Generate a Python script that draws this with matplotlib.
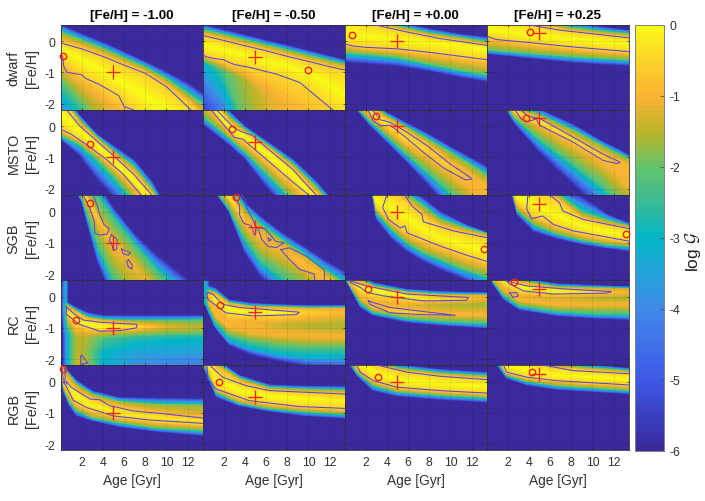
import numpy as np
import matplotlib
matplotlib.use("Agg")
import matplotlib.pyplot as plt
from matplotlib.colors import LinearSegmentedColormap, Normalize
from matplotlib.cm import ScalarMappable

plt.rcParams["font.family"] = ["Liberation Sans", "DejaVu Sans"]
plt.rcParams["mathtext.fontset"] = "cm"

titles = ["[Fe/H] = -1.00", "[Fe/H] = -0.50", "[Fe/H] = +0.00", "[Fe/H] = +0.25"]
row_names = ["dwarf", "MSTO", "SGB", "RC", "RGB"]
cross_feh = [-1.0, -0.5, 0.0, 0.25]
cross_age = 5

# best fit circles, one row per stellar type
circle_age = [[0.2, 10.0, 0.7, 4.1], [2.8, 2.75, 3.0, 3.7], [2.8, 3.2, 13.2, 13.2],
              [1.5, 1.65, 2.2, 2.6], [0.2, 1.55, 3.2, 4.3]]
circle_feh = [[-0.47, -0.92, 0.18, 0.29], [-0.58, -0.08, 0.33, 0.27], [0.27, 0.47, -1.19, -0.73],
              [-0.75, -0.28, 0.23, 0.46], [0.41, 0.0, 0.16, 0.31]]

# colorbar stops (log G, colour)
cbar_levels = [-6, -5.5, -5, -4, -3.5, -3, -2.5, -2, -1.5, -1, -0.4, 0]
cbar_colors = ["#3a2a9c", "#3a40c4", "#3e5ae8", "#3f8ae8", "#23a4d8", "#02b5c8",
               "#38bb93", "#62c36e", "#b8b42a", "#f9b233", "#fcd628", "#f8f817"]

# each panel: ages of the columns, feh of each row (bottom to top), log G of each row
band_val = [-6, -2, -0.6, -0.05, -0.6, -2, -6]

dwarf_a_age = [0, 2, 4, 6, 8, 10, 12, 13.5]
dwarf_a_feh = [[-2.5, -2.6, -2.7, -3, -3.5, -4, -4.6, -5],
               [-1.3, -1.7, -2.0, -2.4, -3, -3.6, -4.2, -4.6],
               [-0.55, -1.07, -1.45, -1.95, -2.6, -3.2, -3.8, -4.2],
               [-0.25, -0.6, -0.95, -1.35, -1.75, -2.15, -2.6, -3],
               [-0.06, -0.25, -0.49, -0.77, -1.03, -1.46, -1.98, -2.5],
               [0.28, 0.02, -0.25, -0.55, -0.85, -1.22, -1.7, -2.05],
               [0.53, 0.24, -0.03, -0.34, -0.65, -0.98, -1.33, -1.68]]
dwarf_a_val = [[-4.8, -3.2, -1.8, -1.3, -1.1, -1, -1, -1],
               [-2.2, -1.6, -1.2, -1, -1, -1, -1, -1], -0.6, -0.02, -0.6, -2, -6]
dwarf_a_lines = [[[0, 2, 4, 6, 8, 10, 12.3], [-0.06, -0.25, -0.49, -0.77, -1.03, -1.46, -2.2]],
                 [[0.2, 0.3, 0.6, 2, 2.4, 3.6, 4.5, 5.5, 6, 6.9],
                  [-0.47, -0.8, -1.0, -1.08, -1.2, -1.38, -1.55, -1.75, -2.1, -2.2]]]

dwarf_b_age = [0, 2, 4, 6, 8, 10, 12, 13.5]
dwarf_b_feh = [[-2.4, -2.5, -2.6, -2.8, -3.2, -3.6, -4, -4.4],
               [-0.7, -0.95, -1.25, -1.7, -2.1, -2.6, -3.2, -3.7],
               [-0.41, -0.65, -0.84, -1.05, -1.25, -1.6, -2.15, -2.6],
               [-0.1, -0.3, -0.45, -0.65, -0.8, -1.05, -1.4, -1.7],
               [0.18, 0.02, -0.15, -0.31, -0.49, -0.65, -0.82, -0.93],
               [0.35, 0.2, 0.03, -0.13, -0.3, -0.47, -0.63, -0.75],
               [0.53, 0.36, 0.2, 0.03, -0.13, -0.3, -0.47, -0.6]]
dwarf_b_val = [[-6, -4.6, -2, -1.5, -1.1, -0.9, -0.9, -1],
               [-3.2, -2.2, -1.6, -1.2, -1, -1, -1, -1], -0.6, -0.05, -0.6, -2, -6]
dwarf_b_lines = [[[0, 2, 4, 6, 8, 10, 12, 13.5], [0.18, 0.02, -0.15, -0.31, -0.49, -0.65, -0.82, -0.93]],
                 [[0, 0.3, 1, 2, 2.5, 3, 4.4, 7, 9.2, 10.7, 12.3],
                  [-0.41, -0.5, -0.55, -0.6, -0.68, -0.75, -0.84, -1.06, -1.33, -1.76, -2.2]]]

dwarf_c_age = [0, 2, 5, 8, 11, 13.5]
dwarf_c_feh = [[-0.68, -0.72, -0.8, -0.96, -1.16, -1.3],
               [-0.35, -0.4, -0.5, -0.72, -0.92, -1.06],
               [-0.09, -0.2, -0.25, -0.36, -0.49, -0.6],
               [0.2, 0.15, 0.05, -0.05, -0.15, -0.25],
               [0.9, 0.62, 0.35, 0.15, -0.02, -0.14],
               [1, 0.75, 0.47, 0.25, 0.1, -0.03],
               [1.1, 0.9, 0.6, 0.4, 0.22, 0.13]]
dwarf_c_lines = [[[2.7, 5.9, 9, 13.5], [0.53, 0.29, 0.08, -0.14]],
                 [[0, 0.8, 2, 5, 8, 11, 13.5], [-0.09, -0.16, -0.2, -0.25, -0.36, -0.49, -0.6]]]

dwarf_d_age = [0, 4, 8, 11, 13.5]
dwarf_d_feh = [[-0.41, -0.55, -0.68, -0.75, -0.79],
               [-0.27, -0.38, -0.48, -0.54, -0.58],
               [0.16, -0.05, -0.19, -0.28, -0.34],
               [0.35, 0.2, 0.05, -0.02, -0.1],
               [1, 0.55, 0.3, 0.18, 0.1],
               [1.1, 0.65, 0.42, 0.3, 0.22],
               [1.2, 0.85, 0.62, 0.45, 0.35]]
dwarf_d_lines = [[[3.8, 6.9, 13.5], [0.53, 0.35, 0.1]],
                 [[0, 0.9, 4.1, 8.2, 13.5], [0.16, 0.05, -0.05, -0.19, -0.34]]]

msto_a_age = [0, 1.8, 3.4, 5, 6.9, 8.6, 10]
msto_a_feh = [[-0.42, -0.95, -1.7, -2.3, -3, -3.7, -4.3],
              [-0.28, -0.55, -1.0, -1.55, -2.3, -3, -3.7],
              [-0.08, -0.43, -0.8, -1.27, -1.85, -2.6, -3.3],
              [0.4, -0.15, -0.6, -1.1, -1.72, -2.4, -3.1],
              [0.95, 0.01, -0.47, -0.95, -1.54, -2.18, -3],
              [1, 0.2, -0.35, -0.8, -1.3, -2.0, -2.8],
              [1.05, 0.35, -0.25, -0.63, -1.06, -1.75, -2.6]]
msto_a_lines = [[[0.57, 1.8, 3.4, 5, 6.9, 8.6], [0.52, 0.01, -0.47, -0.95, -1.54, -2.2]],
                [[0, 1, 2.6, 4.3, 5.9, 7.6], [-0.1, -0.26, -0.63, -1.06, -1.54, -2.2]]]

msto_b_age = [0, 2.5, 4, 6, 8.5, 10.7, 13.5]
msto_b_feh = [[0.05, -0.6, -1.05, -1.95, -2.9, -3.6, -4.2],
              [0.35, -0.35, -0.8, -1.45, -2.3, -3, -3.8],
              [1.0, -0.15, -0.5, -1.06, -1.78, -2.5, -3.5],
              [1.15, -0.05, -0.35, -0.85, -1.55, -2.35, -3.4],
              [1.3, 0.09, -0.25, -0.68, -1.38, -2.18, -3.2],
              [1.4, 0.3, -0.12, -0.58, -1.22, -1.95, -3],
              [1.5, 0.49, 0.0, -0.47, -1.05, -1.75, -2.85]]
msto_b_lines = [[[1.3, 2.9, 3.5, 4.7, 6, 8.5, 10.7], [0.52, -0.04, -0.15, -0.3, -0.68, -1.38, -2.2]],
                [[0.8, 2.2, 3, 3.8, 6, 8.2, 10], [0.52, -0.04, -0.36, -0.42, -1.06, -1.7, -2.2]]]

msto_c_age = [0, 2.4, 3.7, 5.9, 7.8, 10, 11.9, 13.5]
msto_c_feh = [[1.0, 0.02, -0.42, -1.17, -1.85, -2.7, -3.3, -3.8],
              [1.05, 0.17, -0.22, -0.9, -1.45, -2.1, -2.7, -3.2],
              [1.1, 0.35, 0.0, -0.6, -1.0, -1.5, -2, -2.5],
              [1.15, 0.5, 0.15, -0.38, -0.8, -1.33, -1.78, -2.2],
              [1.2, 0.65, 0.28, -0.15, -0.6, -1.15, -1.6, -1.95],
              [1.3, 0.8, 0.38, -0.05, -0.42, -0.85, -1.25, -1.6],
              [1.4, 0.95, 0.49, 0.1, -0.22, -0.66, -1.0, -1.3]]
msto_c_val = [-6, -2.2, -1.0, [-0.3, -0.3, -0.2, -0.4, -0.6, -0.7, -0.9, -0.95], -0.9, -2, -6]
msto_c_lines = [[[2.2, 2.7, 3.4, 4.3, 5.6, 7.45, 9.3, 11.4, 12, 11.9, 10, 7.8, 5.9, 4.3, 3.4, 2.6],
                 [0.52, 0.17, 0.01, 0.03, -0.31, -0.84, -1.33, -1.72, -1.7, -1.65, -1.22, -0.63, -0.2,
                  0.12, 0.2, 0.52]]]

msto_d_age = [0, 2.7, 5, 8.2, 11, 12.4, 13.5]
msto_d_feh = [[1.5, 0.06, -0.85, -1.9, -2.8, -3.3, -3.7],
              [1.55, 0.25, -0.4, -1.2, -1.9, -2.4, -2.7],
              [1.6, 0.4, 0.03, -0.6, -1.15, -1.55, -1.9],
              [1.65, 0.45, 0.14, -0.44, -1.0, -1.3, -1.6],
              [1.7, 0.5, 0.25, -0.36, -0.9, -1.1, -1.3],
              [1.75, 0.6, 0.35, -0.15, -0.65, -0.9, -1.05],
              [1.8, 0.75, 0.55, 0.06, -0.5, -0.72, -0.95]]
msto_d_val = [-6, -2.2, -1.0, [-0.5, -0.5, -0.3, -0.5, -0.7, -0.9, -1], -0.9, -2, -6]
msto_d_lines = [[[2.67, 3.3, 3.8, 4.7, 5, 8.2, 11, 12.3, 12.6, 12.4, 11, 8.2, 5, 3.9, 3.2],
                 [0.52, 0.22, 0.14, 0.22, 0.03, -0.52, -1.1, -1.2, -1.17, -1.12, -0.9, -0.36, 0.25,
                  0.32, 0.52]]]

sgb_a_age = [0, 2, 3.5, 5, 7, 9, 11, 13.5]
sgb_a_feh = [[1.5, 0.3, -1.65, -2.9, -4, -5, -6, -7],
             [1.6, 0.45, -1.1, -2.2, -3.2, -4.2, -5.2, -6],
             [1.7, 0.55, -0.6, -1.6, -2.5, -3.5, -4.5, -5.5],
             [1.8, 0.7, -0.2, -1.0, -1.75, -2.6, -3.8, -5],
             [1.9, 0.8, 0.0, -0.75, -1.5, -2.35, -3.3, -4.5],
             [1.95, 1.0, 0.5, -0.2, -1.05, -1.85, -2.5, -3.2],
             [2, 1.3, 0.9, 0.12, -0.72, -1.35, -1.87, -2.6]]
sgb_a_val = [-6, -2.4, -1.6, [-0.3, -0.2, -0.7, -0.9, -1.1, -1.3, -1.3, -1.3], -1.5, -2.4, -6]
sgb_a_lines = [[[2.14, 2.77, 3.18, 3.24, 3.7, 4.4, 4.6, 4.1, 3.7, 3.46, 3.1],
                [0.52, 0.1, -0.3, -0.7, -0.75, -0.72, -0.55, -0.42, -0.1, 0.2, 0.52]],
               [[4.8, 5.35, 5.3, 5, 4.8, 4.6, 4.8], [-0.73, -0.9, -1.2, -1.25, -1.0, -0.95, -0.73]],
               [[5.75, 6.6, 6.4, 5.9, 5.75], [-1.2, -1.32, -1.4, -1.35, -1.2]],
               [[6.4, 6.75, 6.75, 6.4, 6.25, 6.4], [-1.54, -1.7, -1.84, -1.77, -1.6, -1.54]]]

sgb_b_age = [0, 2.5, 4, 5.5, 7.5, 9.5, 11.5, 13.5]
sgb_b_feh = [[1.2, 0.0, -1.35, -2.1, -2.8, -3.4, -3.9, -4.2],
             [1.25, 0.1, -0.9, -1.6, -2.1, -2.6, -3.1, -3.5],
             [1.3, 0.3, -0.6, -1.2, -1.6, -2.0, -2.5, -3.1],
             [1.35, 0.5, -0.3, -0.85, -1.2, -1.7, -2.1, -2.8],
             [1.4, 0.7, -0.05, -0.6, -1.0, -1.45, -1.95, -2.5],
             [1.45, 0.85, 0.1, -0.4, -0.9, -1.35, -1.85, -2.3],
             [1.5, 1.0, 0.3, -0.15, -0.68, -1.1, -1.55, -1.92]]
sgb_b_val = [-6, -2.4, -1.5, [-0.3, -0.3, -0.8, -0.9, -1, -0.8, -0.8, -1], -1.3, -2.4, -6]
sgb_b_lines = [[[2.9, 3.5, 3.5, 3.9, 4.6, 4.9, 5, 5.05, 5.9, 6.9, 7.7, 7, 6.2, 5.6, 5.3, 4.9, 4.75,
                 4.5, 4.2, 4.05, 3.7],
                [0.52, 0.2, -0.1, -0.38, -0.45, -0.75, -0.75, -0.5, -0.55, -0.95, -1.0, -1.15, -1.12,
                 -0.9, -0.6, -0.4, -0.25, -0.1, 0.1, 0.4, 0.52]],
               [[7.4, 8.2, 9.8, 11.5, 11.5, 10.6, 10.55, 9.15, 8.05, 7.4],
                [-1.22, -1.16, -1.43, -1.86, -2.25, -2.25, -2.0, -1.85, -1.48, -1.22]],
               [[6.2, 6.5, 6.25, 6.2], [-0.85, -0.9, -0.95, -0.85]]]

sgb_c_age = [0, 2.6, 3, 4.5, 6, 7.5, 9, 11.5, 13.5]
sgb_c_feh = [[0.55, 0.55, -0.25, -0.9, -1.3, -1.6, -1.85, -2.2, -2.5],
             [0.7, 0.7, 0.0, -0.55, -1.0, -1.3, -1.5, -1.85, -2.05],
             [0.8, 0.8, 0.15, -0.3, -0.68, -0.9, -1.1, -1.4, -1.6],
             [0.9, 0.9, 0.35, 0.15, -0.2, -0.6, -0.85, -1.1, -1.25],
             [1, 1, 0.6, 0.55, 0.25, -0.2, -0.5, -0.72, -0.85],
             [1.1, 1.1, 0.9, 0.8, 0.5, 0.15, -0.25, -0.55, -0.72],
             [1.2, 1.2, 1.1, 0.95, 0.75, 0.42, 0.02, -0.42, -0.68]]
sgb_c_lines = [[[5.7, 6.35, 7.3, 7.45, 10.3, 13.5], [0.53, 0.18, -0.09, -0.33, -0.62, -0.84]],
               [[4, 3.6, 4.15, 5.25, 5.7, 5.9, 9, 11.55, 13.5],
                [0.53, 0.13, -0.25, -0.52, -0.46, -0.68, -1.1, -1.4, -1.6]]]

sgb_d_age = [0, 2.4, 2.9, 4.5, 6.5, 9, 11.5, 13.5]
sgb_d_feh = [[0.55, 0.55, -0.1, -0.65, -0.85, -1.05, -1.18, -1.27],
             [0.7, 0.7, 0.05, -0.4, -0.68, -0.9, -1.05, -1.1],
             [0.8, 0.8, 0.3, -0.1, -0.42, -0.7, -0.85, -0.95],
             [0.9, 0.9, 0.5, 0.2, -0.1, -0.45, -0.65, -0.75],
             [1.0, 1.0, 0.9, 0.7, 0.4, -0.25, -0.45, -0.55],
             [1.1, 1.1, 1.0, 0.8, 0.6, -0.05, -0.3, -0.47],
             [1.2, 1.2, 1.1, 0.95, 0.8, 0.5, -0.1, -0.38]]
sgb_d_lines = [[[6, 6.9, 7.2, 9.1, 13.5], [0.53, 0.28, 0.02, -0.25, -0.55]],
               [[3.9, 3.8, 4.25, 5.3, 6.3, 8.2, 13.5], [0.53, 0.08, -0.23, -0.14, -0.41, -0.62, -0.95]]]

rc_a_age = [0, 0.2, 0.45, 0.7, 1.5, 2.5, 4, 7, 10, 13.5]
rc_a_feh = [[-2.3] * 10,
            [-1.8] * 10,
            [-1.3] * 10,
            [-1.13] * 10,
            [-0.4, -0.4, -0.42, -0.5, -0.7, -0.88, -0.97, -0.97, -0.97, -0.97],
            [-0.1, -0.12, -0.2, -0.3, -0.5, -0.7, -0.78, -0.8, -0.78, -0.75],
            [0.0, -0.02, -0.1, -0.2, -0.35, -0.5, -0.6, -0.6, -0.6, -0.6],
            [0.6] * 10]
rc_a_val = [[-6, -6, -4.5, -3, -1.4, -1.5, -3.2, -4, -4.2, -4.4],
            [-6, -6, -4.5, -3, -1.5, -1.8, -3, -3.6, -3.6, -3.7],
            [-6, -6, -4.5, -3, -1.5, -1.6, -2.2, -2.6, -2.8, -2.9],
            [-6, -6, -4, -2.8, -1.2, -1.1, -1.1, -1.5, -1.8, -1.9],
            [-6, -5, -2.5, -0.5, -0.1, -0.05, -0.05, -0.4, -1.2, -1.5],
            [-6, -5, -3, -1.5, -1, -1, -1, -1.6, -2, -2.2],
            [-6, -5, -3.2, -6, -6, -6, -6, -6, -6, -6],
            [-6, -6, -3.2, -6, -6, -6, -6, -6, -6, -6]]
rc_a_lines = [[[0.55, 1.35, 2.15, 3.7, 7.2, 7.2, 5.6, 3.7, 1.8, 0.55, 0.55],
               [-0.33, -0.57, -0.75, -0.82, -0.89, -1.0, -1.09, -1.11, -0.89, -0.57, -0.33]],
              [[2, 2.6, 1.9, 1.9, 2], [-1.88, -2.13, -2.17, -1.9, -1.88]]]

rc_b_age = [0, 0.3, 0.6, 1.2, 2.5, 4.5, 7, 10, 13.5]
rc_b_feh = [[-0.2, -0.3, -0.55, -1, -1.55, -1.85, -2.05, -2.25, -2.35],
            [-0.15, -0.2, -0.45, -0.9, -1.4, -1.65, -1.85, -1.95, -1.95],
            [-0.1, -0.1, -0.2, -0.6, -1.0, -1.15, -1.22, -1.27, -1.27],
            [-0.05, -0.05, -0.05, -0.3, -0.7, -0.8, -0.88, -0.92, -0.92],
            [0, 0, 0.05, -0.05, -0.4, -0.48, -0.5, -0.5, -0.5],
            [0.05, 0.1, 0.2, 0.1, -0.22, -0.33, -0.35, -0.38, -0.38],
            [0.15, 0.35, 0.35, 0.28, -0.1, -0.2, -0.25, -0.28, -0.28],
            [0.6] * 9]
rc_b_val = [-6, -3.2,
            [-6, -3, -1.2, -1.0, -1.0, -1.05, -1.0, -1.0, -1.0],
            [-6, -3, -1, -0.8, -0.9, -1.1, -1.4, -1.6, -1.7],
            [-6, -3, -0.8, -0.1, -0.05, -0.05, -0.1, -0.6, -0.9],
            [-6, -3, -2, -1.2, -1.2, -1.2, -1.2, -1.2, -1.2],
            [-6, -3.2, -6, -6, -6, -6, -6, -6, -6],
            [-6, -3.2, -6, -6, -6, -6, -6, -6, -6]]
rc_b_lines = [[[0.5, 1, 1.9, 3.5, 9.15, 8.85, 4.75, 2.2, 0.5, 0.4, 0.5],
               [0.13, 0.07, -0.25, -0.35, -0.5, -0.58, -0.62, -0.52, -0.09, 0.07, 0.13]]]

rc_c_age = [0, 0.5, 1.5, 2.7, 5.9, 9, 13.5]
rc_c_feh = [[0.6, 0.3, -0.35, -0.6, -0.82, -0.92, -1.02],
            [0.65, 0.35, -0.2, -0.5, -0.7, -0.8, -0.87],
            [0.7, 0.4, -0.05, -0.35, -0.52, -0.57, -0.6],
            [0.72, 0.42, 0.05, -0.15, -0.27, -0.25, -0.25],
            [0.8, 0.48, 0.25, 0.22, 0.0, -0.08, -0.05],
            [0.9, 0.6, 0.5, 0.32, 0.12, 0.05, 0.03],
            [1, 0.8, 0.7, 0.45, 0.24, 0.17, 0.13]]
rc_c_val = [-6, -2.4,
            [-6, -1.5, -1.2, -0.9, -0.6, -0.9, -1],
            [-6, -1.5, -1, -1, -1.3, -1.6, -1.7],
            [-6, -1, -0.1, -0.05, -0.05, -0.4, -1],
            -1.2, -6]
rc_c_lines = [[[0.55, 2.1, 5.9, 11.7, 11.5, 7.45, 3.7, 2.1, 1.5, 0.55, 0.55],
               [0.5, 0.34, 0.08, -0.03, -0.12, -0.14, 0.02, 0.13, 0.29, 0.45, 0.5]],
              [[2.25, 2.7, 4.3, 10.45, 6.8, 4.3, 2.4, 2.25],
               [-0.14, -0.19, -0.35, -0.6, -0.57, -0.52, -0.25, -0.14]]]

rc_d_age = [0, 0.6, 1.6, 3.1, 6.6, 10, 13.5]
rc_d_feh = [[0.9, 0.42, -0.09, -0.42, -0.62, -0.7, -0.75],
            [0.92, 0.5, 0.05, -0.3, -0.48, -0.55, -0.58],
            [0.95, 0.55, 0.2, -0.1, -0.27, -0.25, -0.25],
            [0.97, 0.6, 0.25, 0.02, -0.05, -0.05, -0.05],
            [1, 0.7, 0.5, 0.3, 0.17, 0.15, 0.14],
            [1.05, 0.9, 0.7, 0.5, 0.3, 0.27, 0.25],
            [1.1, 1, 0.9, 0.6, 0.42, 0.36, 0.32]]
rc_d_val = [-6, -2.4,
            [-6, -1.4, -1.2, -0.9, -1, -1, -1],
            [-6, -1.4, -1.2, -1.2, -1.3, -1.6, -1.7],
            [-6, -1, -0.3, -0.05, -0.1, -0.5, -1],
            -1.5, -6]
rc_d_lines = [[[1.9, 3.8, 7.55, 11.8, 11.3, 6.3, 3.5, 2.2, 1.9],
               [0.5, 0.34, 0.24, 0.16, 0.11, 0.08, 0.18, 0.4, 0.5]],
              [[2.2, 2.85, 3, 2.5, 2.2], [0.11, 0.13, 0.02, -0.03, 0.11]]]

rgb_a_age = [0, 0.3, 0.8, 1.5, 3, 5.5, 9, 13.5]
rgb_a_feh = [[0.3, -0.35, -0.75, -1.1, -1.25, -1.45, -1.6, -1.74],
             [0.35, -0.2, -0.6, -0.9, -1.15, -1.3, -1.47, -1.55],
             [0.38, -0.1, -0.35, -0.7, -0.92, -1.13, -1.27, -1.36],
             [0.4, 0.1, -0.15, -0.45, -0.75, -1.0, -1.15, -1.25],
             [0.45, 0.3, 0.0, -0.25, -0.56, -0.8, -1.0, -1.17],
             [0.5, 0.4, 0.2, -0.1, -0.42, -0.65, -0.75, -0.78],
             [0.7, 0.55, 0.3, 0.05, -0.3, -0.5, -0.52, -0.54]]
rgb_a_val = [-6, -2, -0.6, [-3, -1.2, -0.3, -0.1, -0.1, -0.2, -0.3, -0.4], -0.9, -1.8, -6]
rgb_a_lines = [[[0.55, 1, 2.8, 3.7, 4.65, 6.85, 10, 13.5], [0, -0.18, -0.56, -0.58, -0.77, -0.94, -1.04, -1.17]],
               [[0.55, 0.5, 1.2, 2.45, 5, 8.4, 13.5], [0, -0.13, -0.6, -0.83, -1.1, -1.23, -1.34]],
               [[0.15, 0.25, 0.35, 0.45, 0.4], [0.42, 0.05, -0.1, 0.15, 0.42]]]

rgb_b_age = [0, 0.4, 1.3, 3.5, 6.3, 9.5, 13.5]
rgb_b_feh = [[0.55, 0.2, -0.5, -0.78, -0.95, -1.1, -1.18],
             [0.6, 0.4, -0.33, -0.68, -0.85, -0.95, -1.03],
             [0.65, 0.55, -0.2, -0.52, -0.7, -0.8, -0.87],
             [0.7, 0.65, 0.1, -0.3, -0.45, -0.55, -0.62],
             [0.8, 0.8, 0.45, 0.0, -0.29, -0.35, -0.4],
             [0.85, 0.85, 0.6, 0.1, -0.2, -0.25, -0.28],
             [0.9, 0.9, 0.7, 0.2, -0.1, -0.14, -0.15]]
rgb_b_val = [-6, -2, -0.6, [-1, -0.3, -0.1, -0.02, -0.02, -0.02, -0.2], -0.8, -2, -6]
rgb_b_lines = [[[0.65, 1.9, 4.1, 6.3, 13.5], [0.53, 0.14, -0.13, -0.29, -0.4]],
               [[0.4, 0.5, 1.3, 4.4, 9.15, 13.5], [0.53, 0.09, -0.24, -0.61, -0.8, -0.86]]]

rgb_c_age = [0, 0.5, 1.2, 2.7, 5, 9, 13.5]
rgb_c_feh = [[1, 0.52, 0.18, -0.3, -0.47, -0.58, -0.67],
             [1.1, 0.7, 0.3, -0.1, -0.32, -0.42, -0.5],
             [1.2, 0.9, 0.45, 0.03, -0.18, -0.29, -0.37],
             [1.25, 1, 0.7, 0.3, 0.05, -0.06, -0.15],
             [1.3, 1.1, 0.95, 0.52, 0.33, 0.17, 0.06],
             [1.4, 1.2, 1.05, 0.65, 0.43, 0.27, 0.17],
             [1.5, 1.3, 1.1, 0.8, 0.55, 0.4, 0.3]]
rgb_c_lines = [[[3.05, 5.9, 9, 13.5], [0.53, 0.3, 0.17, 0.06]],
               [[1.1, 1.5, 2.7, 4.95, 9, 13.5], [0.53, 0.3, 0.03, -0.18, -0.29, -0.37]]]

rgb_d_age = [0, 1, 1.9, 3.8, 6.6, 13.5]
rgb_d_feh = [[1.2, 0.5, 0.1, -0.12, -0.26, -0.4],
             [1.3, 0.7, 0.22, 0.02, -0.12, -0.27],
             [1.4, 0.8, 0.3, 0.14, 0.03, -0.11],
             [1.5, 1, 0.55, 0.38, 0.2, 0.08],
             [1.6, 1.2, 0.9, 0.62, 0.42, 0.25],
             [1.7, 1.3, 1, 0.72, 0.52, 0.34],
             [1.8, 1.4, 1.1, 0.85, 0.65, 0.43]]
rgb_d_lines = [[[5.3, 8.2, 13.5], [0.53, 0.35, 0.25]],
               [[1.6, 1.9, 3.8, 6.6, 13.5], [0.53, 0.3, 0.14, 0.03, -0.11]]]

panels = [
    [(dwarf_a_age, dwarf_a_feh, dwarf_a_val, dwarf_a_lines), (dwarf_b_age, dwarf_b_feh, dwarf_b_val, dwarf_b_lines),
     (dwarf_c_age, dwarf_c_feh, band_val, dwarf_c_lines), (dwarf_d_age, dwarf_d_feh, band_val, dwarf_d_lines)],
    [(msto_a_age, msto_a_feh, band_val, msto_a_lines), (msto_b_age, msto_b_feh, band_val, msto_b_lines),
     (msto_c_age, msto_c_feh, msto_c_val, msto_c_lines), (msto_d_age, msto_d_feh, msto_d_val, msto_d_lines)],
    [(sgb_a_age, sgb_a_feh, sgb_a_val, sgb_a_lines), (sgb_b_age, sgb_b_feh, sgb_b_val, sgb_b_lines),
     (sgb_c_age, sgb_c_feh, band_val, sgb_c_lines), (sgb_d_age, sgb_d_feh, band_val, sgb_d_lines)],
    [(rc_a_age, rc_a_feh, rc_a_val, rc_a_lines), (rc_b_age, rc_b_feh, rc_b_val, rc_b_lines),
     (rc_c_age, rc_c_feh, rc_c_val, rc_c_lines), (rc_d_age, rc_d_feh, rc_d_val, rc_d_lines)],
    [(rgb_a_age, rgb_a_feh, rgb_a_val, rgb_a_lines), (rgb_b_age, rgb_b_feh, rgb_b_val, rgb_b_lines),
     (rgb_c_age, rgb_c_feh, band_val, rgb_c_lines), (rgb_d_age, rgb_d_feh, band_val, rgb_d_lines)],
]

W, H = 705, 502
cmap = LinearSegmentedColormap.from_list(
    "logg", [((v + 6) / 6, c) for v, c in zip(cbar_levels, cbar_colors)], N=64)
norm = Normalize(-6, 0)
levels = np.linspace(-6, 0, 61)
line_color = "#5548d8"
axis_color = "#303030"

col_left = [60.5, 202.5, 344.5, 486.5]
row_top = [25.5, 110.5, 196, 281, 366]
panel_w, panel_h = 142, 85.3

fig = plt.figure(figsize=(W / 100, H / 100), dpi=100)

for r in range(5):
    for c in range(4):
        ax = fig.add_axes([col_left[c] / W, 1 - (row_top[r] + panel_h) / H, panel_w / W, panel_h / H])
        ax.set_facecolor(cmap(0.0))
        age, feh, val, lines = panels[r][c]
        feh = np.array(feh, dtype=float)
        X = np.tile(age, (len(feh), 1))
        Z = np.array([np.full(len(age), v, dtype=float) if np.isscalar(v) else np.array(v, dtype=float)
                      for v in val])
        ax.contourf(X, feh, Z, levels=levels, cmap=cmap, norm=norm, extend="both", antialiased=False)
        for la, lf in lines:
            ax.plot(la, lf, color=line_color, lw=0.75, zorder=3)
        ax.plot(cross_age, cross_feh[c], "+", color="#ff1a1a", ms=9.5, mew=0.95, zorder=5)
        ax.plot(circle_age[r][c], circle_feh[r][c], "o", mfc="none", mec="#ff1a1a", ms=4.6, mew=1.0,
                zorder=5, clip_on=False)
        ax.set_xlim(0, 13.4)
        ax.set_ylim(-2.2, 0.53)
        ax.set_xticks([2, 4, 6, 8, 10, 12])
        ax.set_yticks([-2, -1, 0])
        ax.grid(True, color="k", alpha=0.1, lw=0.5)
        ax.set_axisbelow(False)
        ax.tick_params(direction="in", length=1.5, width=0.5, color="#262626", top=True, right=True,
                       labelsize=8.8, labelcolor="#303030", pad=4)
        for s in ax.spines.values():
            s.set_color(axis_color)
            s.set_linewidth(0.6)
        if c == 0:
            ax.set_yticklabels(["-2", "-1", "0"])
            ax.set_ylabel(row_names[r] + "\n[Fe/H]", fontsize=10.4, color="#303030", labelpad=4, linespacing=1.35)
        else:
            ax.tick_params(labelleft=False)
        if r == 4:
            ax.set_xlabel("Age [Gyr]", fontsize=9.9, color="#303030", labelpad=4)
        else:
            ax.tick_params(labelbottom=False)
        if r == 0:
            ax.set_title(titles[c], fontsize=9.6, fontweight="bold", color="k", pad=5)

cax = fig.add_axes([635 / W, 1 - 451.7 / H, 29 / W, 425.7 / H])
cb = fig.colorbar(ScalarMappable(norm=norm, cmap=cmap), cax=cax)
cb.set_ticks([-6, -5, -4, -3, -2, -1, 0])
cb.set_ticklabels(["-6", "-5", "-4", "-3", "-2", "-1", "0"])
cb.ax.tick_params(direction="in", length=3, width=0.5, labelsize=8.8, labelcolor="#303030",
                  color="#404040", pad=4)
cb.outline.set_edgecolor("#808080")
cb.outline.set_linewidth(0.7)
cb.set_label(r"log $\mathcal{G}$", fontsize=12.5, color="#202020", labelpad=2, y=0.47)

fig.savefig("out.png", dpi=100)
